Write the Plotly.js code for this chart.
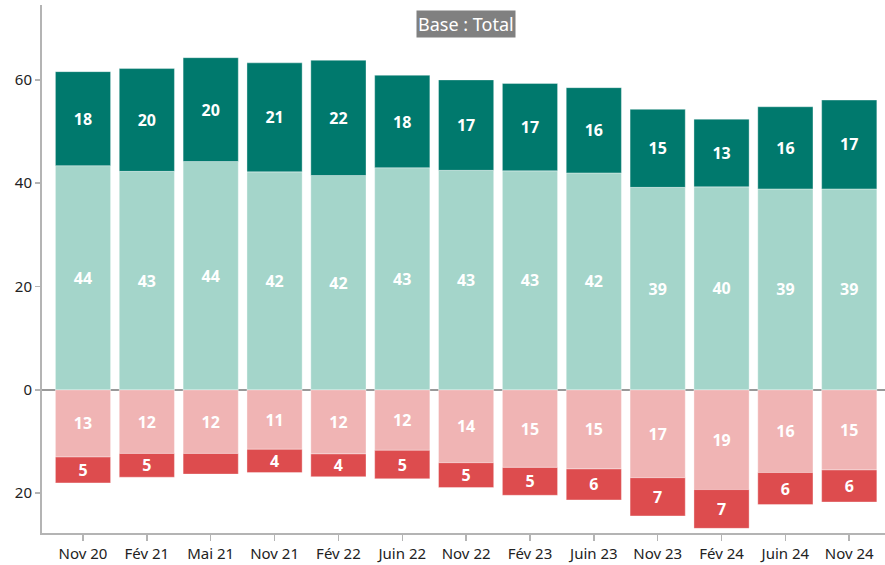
<!DOCTYPE html>
<html><head><meta charset="utf-8">
<script src="https://cdn.plot.ly/plotly-3.0.1.min.js"></script>
<style>html,body{margin:0;padding:0;background:#fff;}#chart{width:885px;height:565px;}</style>
</head><body><div id="chart"></div>
<script>
const categories = ["Nov 20","Fév 21","Mai 21","Nov 21","Fév 22","Juin 22","Nov 22","Fév 23","Juin 23","Nov 23","Fév 24","Juin 24","Nov 24"];
const lightGreen = [43.4,42.3,44.2,42.2,41.5,43.0,42.5,42.4,42.0,39.2,39.3,38.9,38.9];
const lightGreenLabels = ["44","43","44","42","42","43","43","43","42","39","40","39","39"];
const darkGreen = [18.2,19.9,20.1,21.1,22.3,17.9,17.5,16.9,16.5,15.1,13.1,15.9,17.2];
const darkGreenLabels = ["18","20","20","21","22","18","17","17","16","15","13","16","17"];
const lightRed = [13.0,12.3,12.3,11.5,12.4,11.7,14.1,15.0,15.3,17.0,19.3,16.0,15.5];
const lightRedLabels = ["13","12","12","11","12","12","14","15","15","17","19","16","15"];
const darkRed = [5.0,4.6,4.0,4.5,4.4,5.5,4.8,5.4,6.0,7.4,7.5,6.2,6.2];
const darkRedLabels = ["5","5","","4","4","5","5","5","6","7","7","6","6"];
const yTickVals = [-20,0,20,40,60];
const yTickText = ["20","0","20","40","60"];

const neg = a => a.map(v => -v);
const common = {type:'bar', x:categories, textposition:'inside', insidetextanchor:'middle', textangle:0,
  constraintext:'none', hoverinfo:'skip',
  textfont:{family:'Noto Sans, Open Sans, sans-serif', size:16, color:'#ffffff', weight:'bold'}};
const traces = [
  Object.assign({}, common, {y:lightGreen, text:lightGreenLabels, marker:{color:'#a4d5ca', line:{color:'rgba(255,255,255,0.35)', width:1}}}),
  Object.assign({}, common, {y:darkGreen, text:darkGreenLabels, marker:{color:'#00796d', line:{color:'rgba(255,255,255,0.35)', width:1}}}),
  Object.assign({}, common, {y:neg(lightRed), text:lightRedLabels, marker:{color:'#f0b4b4', line:{color:'rgba(255,255,255,0.35)', width:1}}}),
  Object.assign({}, common, {y:neg(darkRed), text:darkRedLabels, marker:{color:'#dd4c4e', line:{color:'rgba(255,255,255,0.35)', width:1}}})
];
const layout = {
  width:885, height:565, barmode:'relative', bargap:0.136, showlegend:false,
  margin:{l:42, r:0, t:5, b:32},
  paper_bgcolor:'#ffffff', plot_bgcolor:'#ffffff',
  font:{family:'Noto Sans, Open Sans, sans-serif', size:15, color:'#222'},
  xaxis:{type:'category', range:[-0.642, 12.56], showline:true, linecolor:'#b4b4b4', linewidth:2,
    ticks:'outside', ticklen:6, tickcolor:'#b4b4b4', tickwidth:1.5, showgrid:false, zeroline:false,
    tickfont:{size:15, color:'#222'}},
  yaxis:{range:[-27.7, 74.5], tickvals:yTickVals, ticktext:yTickText, showline:true, linecolor:'#b4b4b4', linewidth:2,
    ticks:'outside', ticklen:5, tickcolor:'#b4b4b4', tickwidth:1.5, showgrid:false,
    zeroline:true, zerolinecolor:'#999999', zerolinewidth:1.5, tickfont:{size:15, color:'#222'}},
  annotations:[{text:'Base : Total', xref:'paper', yref:'paper', x:(466-42)/843, y:(533-23.5)/528, xanchor:'center', yanchor:'middle',
    showarrow:false, bgcolor:'#808080', font:{size:18, color:'#ffffff'}, borderpad:1}]
};
Plotly.newPlot('chart', traces, layout, {displayModeBar:false, staticPlot:true});
</script></body></html>
